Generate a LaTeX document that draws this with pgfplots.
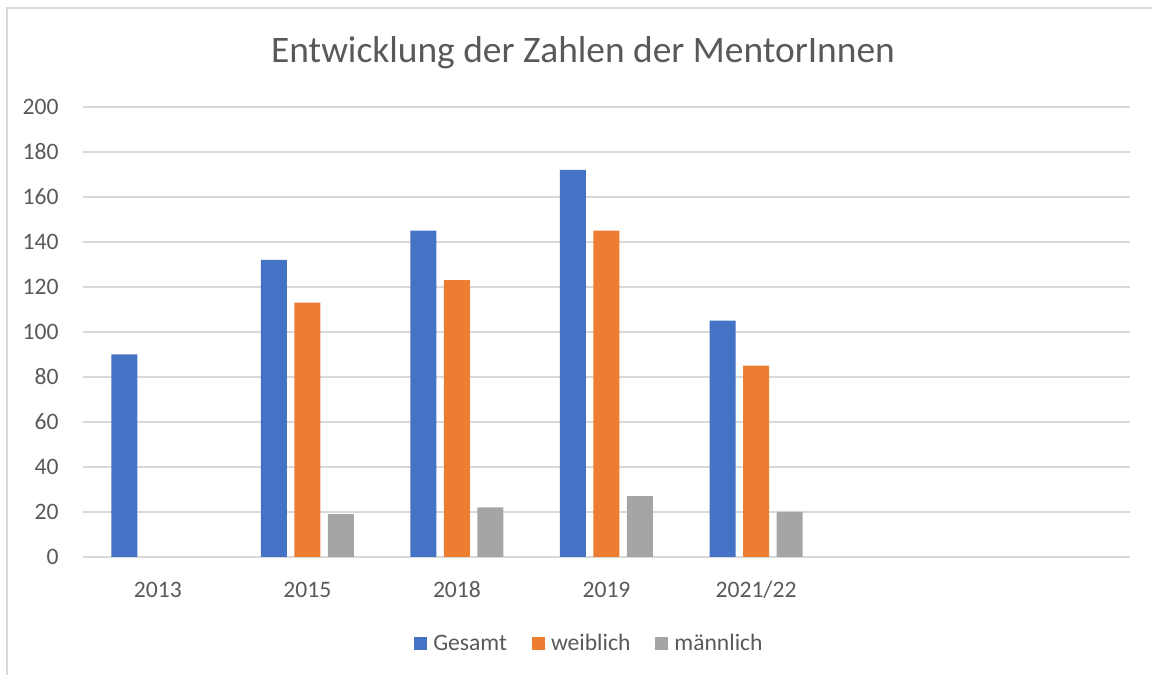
\documentclass[border=0pt]{standalone}
\usepackage{fontspec}
\setmainfont{Carlito}
\usepackage{pgfplots}
\pgfplotsset{compat=1.18}
\definecolor{cblue}{HTML}{4472C4}
\definecolor{corange}{HTML}{ED7D31}
\definecolor{cgray}{HTML}{A5A5A5}
\definecolor{txt}{HTML}{595959}
\definecolor{gridc}{HTML}{D9D9D9}
\begin{document}
\begin{tikzpicture}
\useasboundingbox (0,0) rectangle (576pt,337.5pt);
\draw[color=gridc, line width=0.75pt] (3.5pt,0) -- (3.5pt,333.5pt) -- (576pt,333.5pt);
\node[text=txt, font=\fontsize{18.7}{22}\selectfont] at (291.5pt,311pt) {Entwicklung der Zahlen der MentorInnen};
\begin{axis}[
  at={(41.5pt,59pt)}, anchor=south west,
  scale only axis, width=523.5pt, height=225pt,
  xmin=-0.5, xmax=6.5, ymin=0, ymax=200,
  ytick={0,20,...,200},
  xtick={0,...,4},
  xticklabels={2013,2015,2018,2019,2021/22},
  ymajorgrids, grid style={color=gridc, line width=0.75pt},
  axis line style={draw=none},
  major tick length=0pt,
  tick label style={text=txt, font=\fontsize{11.8}{14}\selectfont},
  /pgf/number format/assume math mode=true,
  xticklabel style={anchor=base, inner sep=0pt, yshift=-20pt},
  yticklabel style={anchor=east, inner sep=0pt, xshift=-12pt},
  ybar, bar width=13pt,
  legend columns=3,
  legend style={at={(axis description cs:0.4842,-0.1933)}, anchor=center, draw=none, fill=none,
    font=\fontsize{11.8}{14}\selectfont, text=txt,
    nodes={inner sep=1.5pt},
    /tikz/every odd column/.append style={column sep=1.5pt},
    /tikz/every even column/.append style={column sep=11pt}},
  legend image code/.code={\fill[#1] (0pt,-3.25pt) rectangle (6.5pt,3.25pt);},
]
\addplot[fill=cblue, draw=none, bar shift=-16.75pt] coordinates {(0,90) (1,132) (2,145) (3,172) (4,105)};
\addplot[fill=corange, draw=none, bar shift=0pt] coordinates {(1,113) (2,123) (3,145) (4,85)};
\addplot[fill=cgray, draw=none, bar shift=16.75pt] coordinates {(1,19) (2,22) (3,27) (4,20)};
\legend{Gesamt, weiblich, männlich}
\end{axis}
\end{tikzpicture}
\end{document}
